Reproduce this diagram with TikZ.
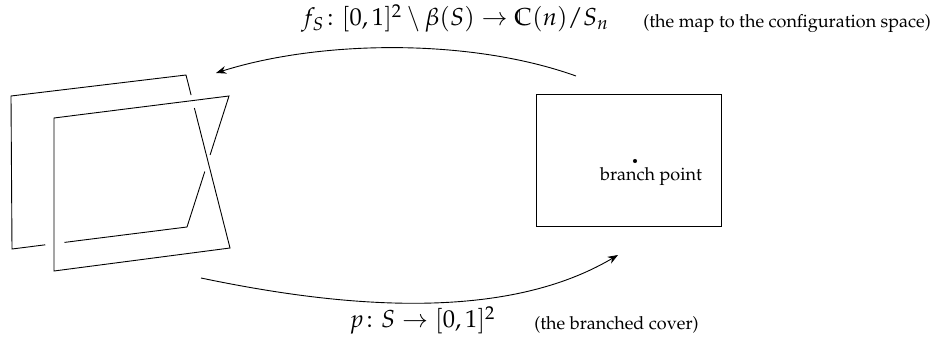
\documentclass[tikz,border=0pt]{standalone}
\usepackage[T1]{fontenc}
\usepackage{amsmath,amssymb}
\usepackage{mathpazo}
\usetikzlibrary{arrows.meta,calc}
\tikzset{
  lap/.style={line width=0.5pt,line join=miter},
  lek/.style={line width=0.5pt,-{Stealth[length=2mm,width=1.5mm]}},
  pont/.style={circle,fill,inner sep=0.8pt},
  kep/.style={anchor=base west,font=\fontsize{13.6}{16}\selectfont},
  megj/.style={anchor=base west,font=\normalsize},
}

\begin{document}
\begin{tikzpicture}[x=0.5556pt,y=-0.5556pt]
  \useasboundingbox (0,0) rectangle (941,338);
  % the two sheets of the cover
  \coordinate (b1) at (11,96);  \coordinate (b2) at (186,75);
  \coordinate (b3) at (12,249); \coordinate (m) at (187,227);
  \coordinate (f1) at (54,118); \coordinate (f2) at (229,96);
  \coordinate (f3) at (230,248); \coordinate (f4) at (54,271);
  \draw[lap] ($(m)!0.81!(b3)$) -- (b3) -- (b1) -- (b2) -- ($(b2)!0.116!(f3)$);
  \draw[lap] ($(b2)!0.191!(f3)$) -- (f3) -- (f4) -- (f1) -- (f2) -- ($(f2)!0.45!(m)$);
  \draw[lap] ($(f2)!0.577!(m)$) -- (m) -- ($(m)!0.70!(b3)$);
  % the square
  \draw[lap] (536,94) rectangle (721,226);
  \node[pont] (bp) at (635,161) {};
  \node[anchor=base] (bplbl) at (651,181) {branch point};
  % the maps
  \coordinate (fs0) at (576,76);  \coordinate (fs1) at (216,73);
  \coordinate (p0) at (201,278);  \coordinate (p1) at (618,255);
  \draw[lek] (fs0) .. controls (470,38) and (320,40) .. (fs1);
  \draw[lek] (p0) .. controls (330,305) and (500,325) .. (p1);
  \node[kep] (fslbl) at (295,26)
    {$f_S\colon [0,1]^2\setminus\beta(S)\to\mathbb{C}(n)/S_n$};
  \node[megj] (fsmegj) at (637,28) {(the map to the configuration space)};
  \node[kep] (plbl) at (343,328) {$p\colon S\to[0,1]^2$};
  \node[megj] (pmegj) at (528,330) {(the branched cover)};
\end{tikzpicture}
\end{document}
